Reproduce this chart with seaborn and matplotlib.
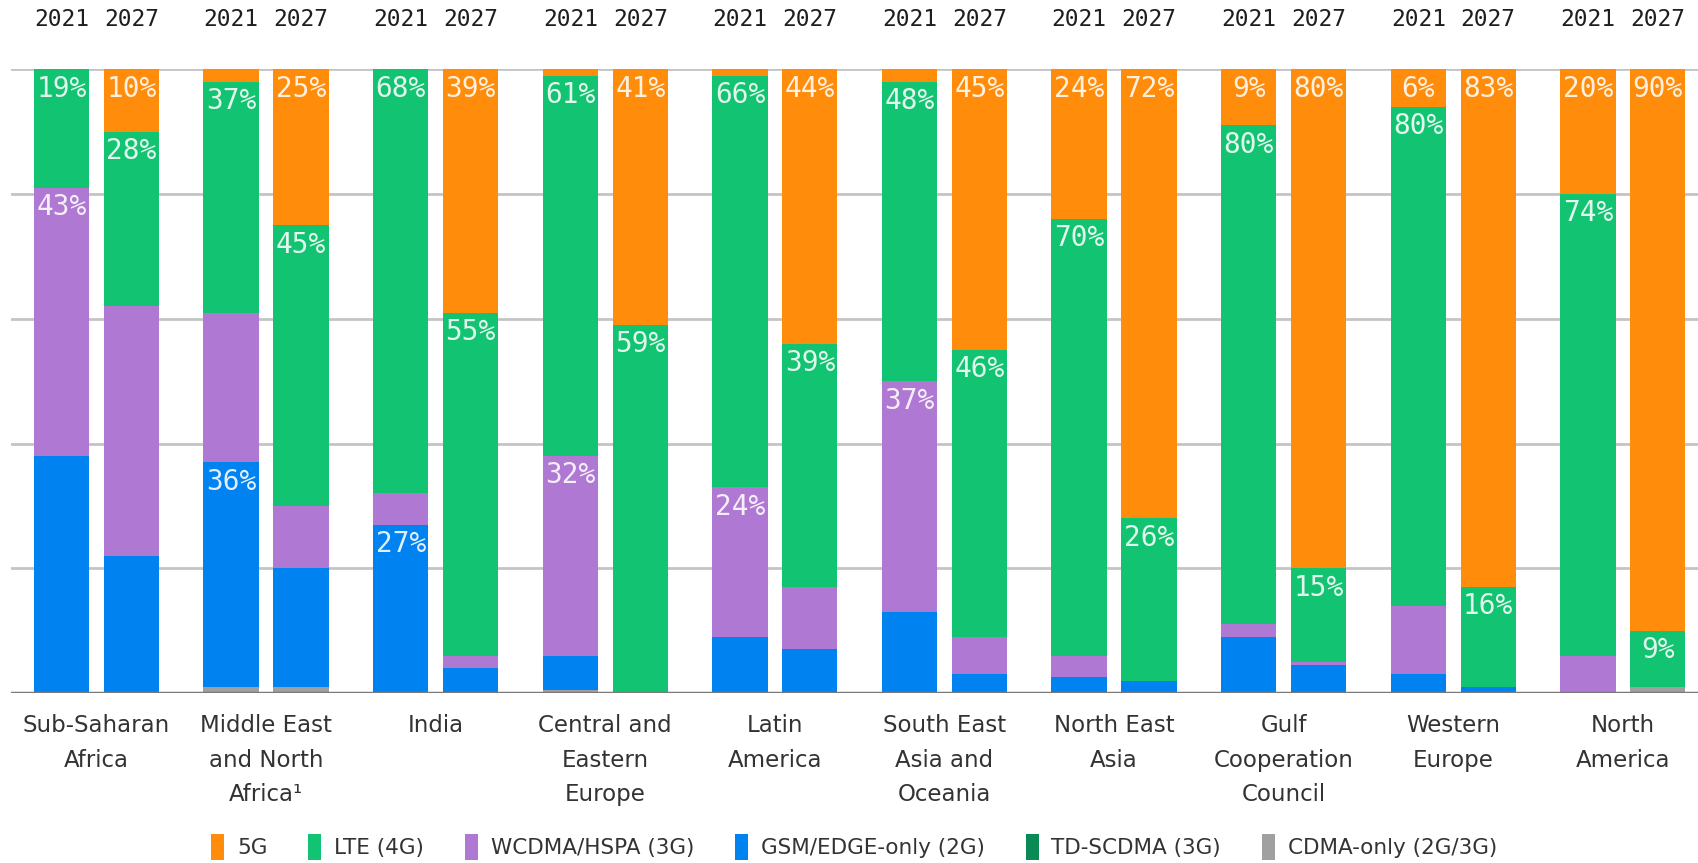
import pandas as pd
import seaborn as sns
import matplotlib.pyplot as plt
from matplotlib.patches import Patch
from matplotlib.transforms import blended_transform_factory

# Data
regions = ["Sub-Saharan\nAfrica", "Middle East\nand North\nAfrica\u00b9", "India",
           "Central and\nEastern\nEurope", "Latin\nAmerica", "South East\nAsia and\nOceania",
           "North East\nAsia", "Gulf\nCooperation\nCouncil", "Western\nEurope", "North\nAmerica"]
years = ["2021", "2027"]
techs = ["5G", "LTE (4G)", "WCDMA/HSPA (3G)", "GSM/EDGE-only (2G)", "TD-SCDMA (3G)", "CDMA-only (2G/3G)"]
colors = ["#FF8C0A", "#12C371", "#AF78D2", "#0082F0", "#0A8A55", "#A0A0A0"]

g5_2021 = [0, 2, 0, 1, 1, 2, 24, 9, 6, 20]
lte_2021 = [19, 37, 68, 61, 66, 48, 70, 80, 80, 74]
wcdma_2021 = [43, 24, 5, 32, 24, 37, 3.5, 2, 11, 6]
gsm_2021 = [38, 36, 27, 5.5, 9, 13, 2.5, 9, 3, 0]
td_2021 = [0, 0, 0, 0, 0, 0, 0, 0, 0, 0]
cdma_2021 = [0, 1, 0, 0.5, 0, 0, 0, 0, 0, 0]

g5_2027 = [10, 25, 39, 41, 44, 45, 72, 80, 83, 90]
lte_2027 = [28, 45, 55, 59, 39, 46, 26, 15, 16, 9]
wcdma_2027 = [40, 10, 2, 0, 10, 6, 0, 0.5, 0, 0]
gsm_2027 = [22, 19, 4, 0, 7, 3, 2, 4.5, 1, 0]
td_2027 = [0, 0, 0, 0, 0, 0, 0, 0, 0, 0]
cdma_2027 = [0, 1, 0, 0, 0, 0, 0, 0, 0, 1]

# which segments carry a percentage label
labels_2021 = [["LTE (4G)", "WCDMA/HSPA (3G)"], ["LTE (4G)", "GSM/EDGE-only (2G)"],
               ["LTE (4G)", "GSM/EDGE-only (2G)"], ["LTE (4G)", "WCDMA/HSPA (3G)"],
               ["LTE (4G)", "WCDMA/HSPA (3G)"], ["LTE (4G)", "WCDMA/HSPA (3G)"],
               ["5G", "LTE (4G)"], ["5G", "LTE (4G)"], ["5G", "LTE (4G)"], ["5G", "LTE (4G)"]]
labels_2027 = [["5G", "LTE (4G)"]] * 10

series = {
    "2021": [g5_2021, lte_2021, wcdma_2021, gsm_2021, td_2021, cdma_2021],
    "2027": [g5_2027, lte_2027, wcdma_2027, gsm_2027, td_2027, cdma_2027],
}
label_sets = {"2021": labels_2021, "2027": labels_2027}

rows = []
for year in years:
    vals = series[year]
    for i, reg in enumerate(regions):
        for k, tech in enumerate(techs):
            top = sum(vals[m][i] for m in range(k, len(techs)))
            rows.append({"region": reg, "year": year, "tech": tech,
                         "value": vals[k][i], "top": top})
df = pd.DataFrame(rows)

sns.set_theme(style="white")
plt.rcParams["font.family"] = ["DejaVu Sans"]

fig = plt.figure(figsize=(16.98, 8.63), dpi=100)
ax = fig.add_axes([11 / 1698, 1 - 693 / 863, 1 - 11 / 1698, (693 - 69.3) / 863])

# stacked bars: draw cumulative tops from tallest down
width, gap = 0.825, 0.21
for tech, col in zip(techs, colors):
    sub = df[df["tech"] == tech]
    sns.barplot(data=sub, x="region", y="top", hue="year", order=regions, hue_order=years,
                palette=[col, col], width=width, gap=gap, saturation=1, errorbar=None,
                legend=False, linewidth=0, zorder=2, ax=ax)

ax.set_ylim(0, 100)
ax.set_xlim(-0.504, 9.443)
ax.set_yticks([0, 20, 40, 60, 80, 100])
ax.set_yticklabels([])
ax.yaxis.grid(True, color="#c4c4c4", linewidth=2)
ax.xaxis.grid(False)
ax.set_axisbelow(True)
ax.axhline(0, color="#7a7a7a", linewidth=2.5, zorder=5)
for s in ax.spines.values():
    s.set_visible(False)
ax.set_xlabel("")
ax.set_ylabel("")
ax.tick_params(axis="both", length=0)
ax.tick_params(axis="x", pad=15)
ax.set_xticks(range(len(regions)))
ax.set_xticklabels(regions, fontsize=16.5, color="#333333", linespacing=1.65)

# year labels and percentages
trans = blended_transform_factory(ax.transData, fig.transFigure)
for j, year in enumerate(years):
    offset = (j - 0.5) * width / 2
    for i, reg in enumerate(regions):
        x = i + offset
        ax.text(x, 1 - 20 / 863, year, transform=trans, ha="center", va="center",
                fontsize=16.5, family="DejaVu Sans Mono", color="#1e1e1e")
        for tech in label_sets[year][i]:
            r = df[(df["region"] == reg) & (df["year"] == year) & (df["tech"] == tech)].iloc[0]
            ax.annotate(f"{r['value']:.0f}%", (x, r["top"]), xytext=(0, -14),
                        textcoords="offset points", ha="center", va="center",
                        fontsize=20, family="DejaVu Sans Mono", color="white", alpha=0.88,
                        zorder=6)

handles = [Patch(facecolor=c, edgecolor="none") for c in colors]
fig.legend(handles, techs, loc="center", bbox_to_anchor=(0.503, 0.0185), ncol=6,
           frameon=False, prop={"size": 15.5}, handlelength=0.6,
           handleheight=1.5, handletextpad=0.6, columnspacing=1.9, labelcolor="#333333")

fig.savefig("out.png", dpi=100)
plt.close()
